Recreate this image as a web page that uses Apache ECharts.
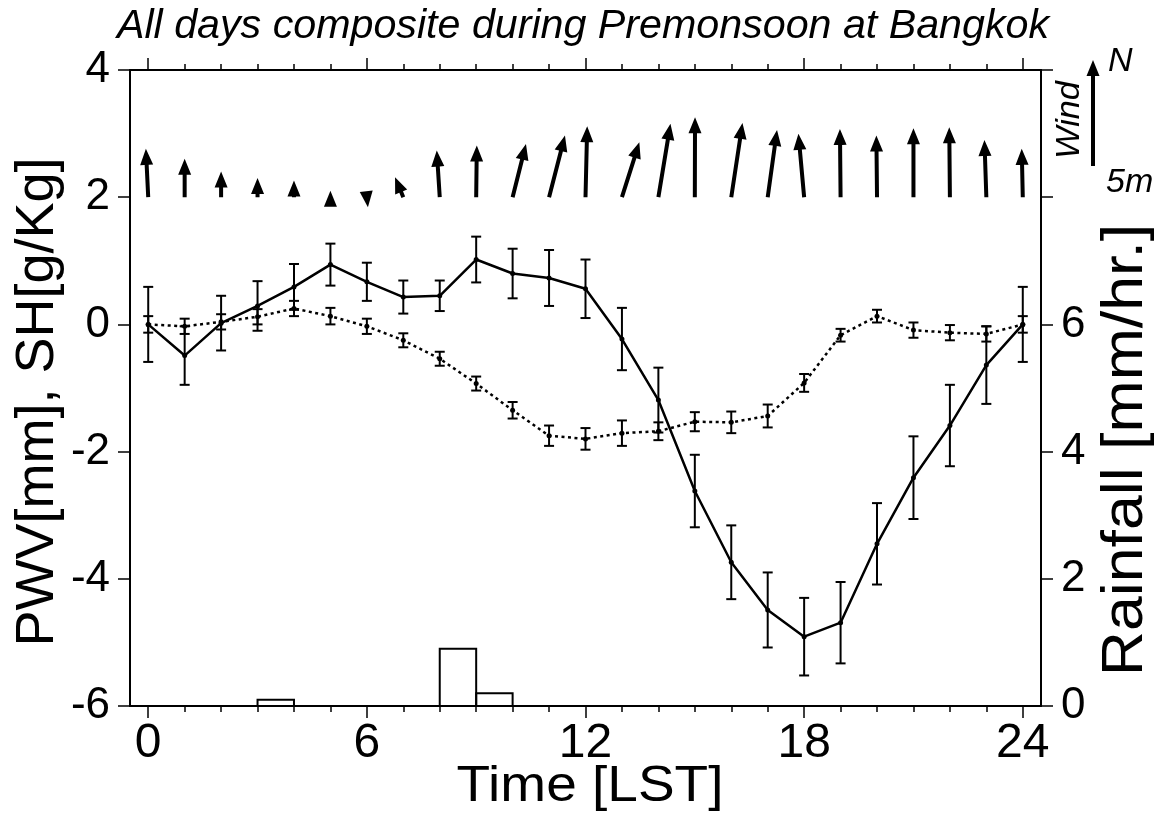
<!DOCTYPE html>
<html>
<head>
<meta charset="utf-8">
<script src="https://cdn.jsdelivr.net/npm/echarts@6/dist/echarts.min.js"></script>
<style>
  html, body { margin: 0; padding: 0; background: #fff; }
  #chart { width: 1165px; height: 830px; }
</style>
</head>
<body>
<div id="chart"></div>
<script>
// hourly composite, LST
const hours = [0, 1, 2, 3, 4, 5, 6, 7, 8, 9, 10, 11, 12, 13, 14, 15, 16, 17, 18, 19, 20, 21, 22, 23, 24];
const hourLabels = [0, 6, 12, 18, 24];

// PWV anomaly [mm] and its error
const pwv = [0, -0.49, 0.02, 0.29, 0.59, 0.94, 0.67, 0.43, 0.45, 1.02, 0.80, 0.73, 0.56,
             -0.23, -1.19, -2.62, -3.74, -4.49, -4.91, -4.69, -3.45, -2.41, -1.59, -0.64, 0];
const pwvErr = [0.59, 0.46, 0.43, 0.39, 0.36, 0.33, 0.30, 0.26, 0.24, 0.36, 0.39, 0.44, 0.46,
                0.49, 0.51, 0.57, 0.58, 0.59, 0.61, 0.64, 0.64, 0.65, 0.64, 0.61, 0.59];

// SH anomaly [g/Kg] and its error
const sh = [0, -0.03, 0.04, 0.12, 0.25, 0.13, -0.03, -0.25, -0.54, -0.93, -1.35, -1.75, -1.80,
            -1.71, -1.68, -1.53, -1.54, -1.44, -0.92, -0.17, 0.13, -0.09, -0.13, -0.15, 0];
const shErr = [0.13, 0.12, 0.12, 0.12, 0.12, 0.13, 0.12, 0.11, 0.11, 0.11, 0.13, 0.16, 0.17,
               0.20, 0.14, 0.15, 0.17, 0.18, 0.14, 0.10, 0.10, 0.12, 0.12, 0.12, 0.13];

// rainfall [mm/hr.] for each hour interval [h, h+1)
const rainfall = [0, 0, 0, 0.1, 0, 0, 0, 0, 0.9, 0.2, 0, 0,
                  0, 0, 0, 0, 0, 0, 0, 0, 0, 0, 0, 0];

// wind components [m/s]
const windU = [-0.11, 0, 0, 0, 0, 0, 0.05, -0.39, -0.14, 0.03, 0.63, 0.75, 0.08,
               0.82, 0.57, 0.01, 0.53, 0.44, -0.27, -0.03, -0.03, 0, -0.03, -0.09, -0.05];
const windV = [2.28, 1.81, 1.21, 0.91, 0.79, 0.30, -0.47, 0.94, 2.20, 2.44, 2.51, 2.91, 3.35,
               2.59, 3.46, 3.77, 3.50, 3.17, 2.99, 3.22, 2.91, 3.25, 3.30, 2.70, 2.28];

const FONT = '"Liberation Sans", Arial, sans-serif';
const WIND_BASE = 2;      // arrows start at this PWV level
const PX_PER_MS = 21.2;   // arrow length per m/s
const WIND_REF = 5;       // legend arrow, m/s

function arrowPoints(tx, ty, px, py) {
  const dx = px - tx, dy = py - ty;
  const len = Math.hypot(dx, dy);
  if (len < 0.5) return null;
  const ux = dx / len, uy = dy / len, nx = -uy, ny = ux;
  const head = 16, hw = 6.5, sw = 2;
  const bx = px - ux * head, by = py - uy * head;
  if (len <= head) {
    return [[px, py], [bx + nx * hw, by + ny * hw], [bx - nx * hw, by - ny * hw]];
  }
  return [
    [tx + nx * sw, ty + ny * sw], [bx + nx * sw, by + ny * sw], [bx + nx * hw, by + ny * hw],
    [px, py],
    [bx - nx * hw, by - ny * hw], [bx - nx * sw, by - ny * sw], [tx - nx * sw, ty - ny * sw]
  ];
}

function errorBar(params, api) {
  const x = api.value(0), y = api.value(1), e = api.value(2);
  const top = api.coord([x, y + e]);
  const bot = api.coord([x, y - e]);
  const cw = 5;
  const st = { stroke: '#000', lineWidth: 2 };
  return {
    type: 'group',
    children: [
      { type: 'line', shape: { x1: top[0], y1: top[1], x2: bot[0], y2: bot[1] }, style: st },
      { type: 'line', shape: { x1: top[0] - cw, y1: top[1], x2: top[0] + cw, y2: top[1] }, style: st },
      { type: 'line', shape: { x1: bot[0] - cw, y1: bot[1], x2: bot[0] + cw, y2: bot[1] }, style: st }
    ]
  };
}

function rainBar(params, api) {
  const h = api.value(0), r = api.value(1);
  if (!r) return null;
  const p0 = api.coord([h, 0]);
  const p1 = api.coord([h + 1, r]);
  return {
    type: 'rect',
    shape: { x: p0[0], y: p1[1], width: p1[0] - p0[0], height: p0[1] - p1[1] },
    style: { fill: 'none', stroke: '#000', lineWidth: 2 }
  };
}

function windArrow(params, api) {
  const h = api.value(0), u = api.value(1), v = api.value(2);
  const t = api.coord([h, WIND_BASE]);
  const pts = arrowPoints(t[0], t[1], t[0] + u * PX_PER_MS, t[1] - v * PX_PER_MS);
  if (!pts) return null;
  return { type: 'polygon', shape: { points: pts }, style: { fill: '#000' } };
}

const chart = echarts.init(document.getElementById('chart'));

const xBase = { type: 'value', min: -0.5, max: 24.5, gridIndex: 0, splitLine: { show: false } };
const axisLineStyle = { color: '#000', width: 2 };
const tickStyle = { color: '#000', width: 1.5 };

const legendArrow = arrowPoints(1093, 166, 1093, 166 - WIND_REF * PX_PER_MS);

chart.setOption({
  animation: false,
  backgroundColor: '#fff',
  grid: { left: 130, right: 124, top: 70, bottom: 124 },
  xAxis: [
    Object.assign({}, xBase, {
      position: 'bottom',
      axisLine: { onZero: false, lineStyle: axisLineStyle },
      axisTick: { customValues: hourLabels, length: 12, lineStyle: tickStyle },
      axisLabel: { customValues: hourLabels, fontSize: 48, fontFamily: FONT, color: '#000', margin: 14 }
    }),
    Object.assign({}, xBase, {
      position: 'bottom',
      axisLine: { onZero: false, show: false },
      axisTick: { customValues: hours, length: 6, lineStyle: tickStyle },
      axisLabel: { show: false }
    }),
    Object.assign({}, xBase, {
      position: 'top',
      axisLine: { onZero: false, lineStyle: axisLineStyle },
      axisTick: { customValues: hourLabels, length: 12, lineStyle: tickStyle },
      axisLabel: { show: false }
    }),
    Object.assign({}, xBase, {
      position: 'top',
      axisLine: { onZero: false, show: false },
      axisTick: { customValues: hours, length: 6, lineStyle: tickStyle },
      axisLabel: { show: false }
    })
  ],
  yAxis: [
    {
      type: 'value', min: -6, max: 4, interval: 2, position: 'left',
      splitLine: { show: false },
      axisLine: { show: true, onZero: false, lineStyle: axisLineStyle },
      axisTick: { show: true, length: 12, lineStyle: tickStyle },
      axisLabel: { fontSize: 44, fontFamily: FONT, color: '#000', margin: 20 }
    },
    {
      type: 'value', min: 0, max: 10, interval: 2, position: 'right',
      splitLine: { show: false },
      axisLine: { show: true, onZero: false, lineStyle: axisLineStyle },
      axisTick: { show: true, length: 12, lineStyle: tickStyle },
      axisLabel: {
        fontSize: 44, fontFamily: FONT, color: '#000', margin: 20,
        formatter: v => (v <= 6 ? String(v) : '')
      }
    }
  ],
  series: [
    {
      type: 'custom', name: 'Rainfall', xAxisIndex: 0, yAxisIndex: 1,
      renderItem: rainBar,
      data: rainfall.map((r, i) => [hours[i], r]),
      z: 2
    },
    {
      type: 'line', name: 'SH', xAxisIndex: 0, yAxisIndex: 0,
      data: hours.map((h, i) => [h, sh[i]]),
      symbol: 'circle', symbolSize: 5,
      itemStyle: { color: '#000' },
      lineStyle: { color: '#000', width: 2.5, type: [3, 3.5] },
      z: 3
    },
    {
      type: 'custom', name: 'SH err', xAxisIndex: 0, yAxisIndex: 0,
      renderItem: errorBar,
      data: hours.map((h, i) => [h, sh[i], shErr[i]]),
      z: 3
    },
    {
      type: 'line', name: 'PWV', xAxisIndex: 0, yAxisIndex: 0,
      data: hours.map((h, i) => [h, pwv[i]]),
      symbol: 'circle', symbolSize: 5,
      itemStyle: { color: '#000' },
      lineStyle: { color: '#000', width: 2.5 },
      z: 4
    },
    {
      type: 'custom', name: 'PWV err', xAxisIndex: 0, yAxisIndex: 0,
      renderItem: errorBar,
      data: hours.map((h, i) => [h, pwv[i], pwvErr[i]]),
      z: 4
    },
    {
      type: 'custom', name: 'Wind', xAxisIndex: 0, yAxisIndex: 0,
      renderItem: windArrow,
      data: hours.map((h, i) => [h, windU[i], windV[i]]),
      z: 5
    }
  ],
  graphic: [
    {
      type: 'text', x: 583, y: 27, scaleX: 1.03,
      style: { text: 'All days composite during Premonsoon at Bangkok', fontSize: 40, fontStyle: 'italic',
               fontFamily: FONT, fill: '#000', align: 'center', verticalAlign: 'middle' }
    },
    {
      type: 'text', x: 590, y: 787, scaleX: 1.1,
      style: { text: 'Time [LST]', fontSize: 50, fontFamily: FONT, fill: '#000',
               align: 'center', verticalAlign: 'middle' }
    },
    {
      type: 'text', x: 38, y: 402, rotation: Math.PI / 2,
      style: { text: 'PWV[mm], SH[g/Kg]', fontSize: 54, fontFamily: FONT, fill: '#000',
               align: 'center', verticalAlign: 'middle' }
    },
    {
      type: 'text', x: 1126, y: 450, rotation: Math.PI / 2, scaleX: 1.08,
      style: { text: 'Rainfall [mm/hr.]', fontSize: 58, fontFamily: FONT, fill: '#000',
               align: 'center', verticalAlign: 'middle' }
    },
    {
      type: 'polygon', shape: { points: legendArrow }, style: { fill: '#000' }
    },
    {
      type: 'text', x: 1070, y: 120, rotation: Math.PI / 2, scaleX: 1.04,
      style: { text: 'Wind', fontSize: 33, fontStyle: 'italic', fontFamily: FONT, fill: '#000',
               align: 'center', verticalAlign: 'middle' }
    },
    {
      type: 'text', x: 1108, y: 79,
      style: { text: 'N', fontSize: 34, fontStyle: 'italic', fontFamily: FONT, fill: '#000',
               align: 'left', verticalAlign: 'bottom' }
    },
    {
      type: 'text', x: 1106, y: 200,
      style: { text: '5m', fontSize: 34, fontStyle: 'italic', fontFamily: FONT, fill: '#000',
               align: 'left', verticalAlign: 'bottom' }
    }
  ]
});
</script>
</body>
</html>
